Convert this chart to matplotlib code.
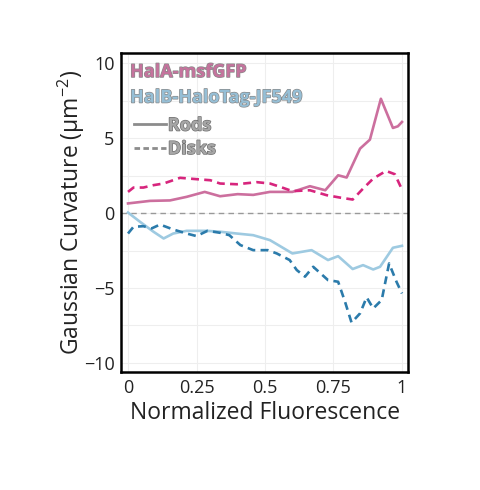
import numpy as np
import matplotlib
matplotlib.use("Agg")
import matplotlib.pyplot as plt
import matplotlib.patheffects as pe
from matplotlib.lines import Line2D

plt.rcParams['font.family'] = ['Open Sans', 'DejaVu Sans']
plt.rcParams['mathtext.fontset'] = 'custom'
plt.rcParams['mathtext.rm'] = 'Open Sans'
plt.rcParams['mathtext.it'] = 'Open Sans:italic'

# HalA-msfGFP, rods (solid)
halA_rods_x = [0.0, 0.08, 0.153, 0.214, 0.28, 0.336, 0.40, 0.457, 0.518, 0.555, 0.60, 0.664,
               0.72, 0.767, 0.798, 0.847, 0.883, 0.923, 0.967, 0.985, 1.0]
halA_rods_y = [0.65, 0.82, 0.85, 1.09, 1.42, 1.13, 1.27, 1.22, 1.42, 1.42, 1.42, 1.8,
               1.53, 2.53, 2.38, 4.31, 4.91, 7.64, 5.69, 5.8, 6.09]

# HalA-msfGFP, disks (dashed)
halA_disks_x = [0.0, 0.02, 0.056, 0.093, 0.13, 0.19, 0.25, 0.30, 0.336, 0.397, 0.47, 0.518,
                0.555, 0.60, 0.664, 0.725, 0.774, 0.82, 0.858, 0.895, 0.942, 0.974, 1.0]
halA_disks_y = [1.42, 1.71, 1.71, 1.87, 1.98, 2.36, 2.27, 2.2, 1.98, 1.93, 2.07, 1.98,
                1.76, 1.47, 1.53, 1.2, 1.04, 0.91, 1.64, 2.31, 2.82, 2.6, 1.58]

# HalB-HaloTag-JF549, rods (solid)
halB_rods_x = [0.0, 0.044, 0.093, 0.13, 0.165, 0.214, 0.287, 0.336, 0.397, 0.457, 0.518, 0.543,
               0.60, 0.67, 0.73, 0.767, 0.82, 0.858, 0.895, 0.92, 0.967, 1.0]
halB_rods_y = [0.04, -0.58, -1.24, -1.69, -1.36, -1.18, -1.18, -1.24, -1.36, -1.47, -1.8, -2.07,
               -2.69, -2.47, -3.13, -2.87, -3.73, -3.47, -3.76, -3.58, -2.31, -2.18]

# HalB-HaloTag-JF549, disks (dashed)
halB_disks_x = [0.0, 0.02, 0.056, 0.086, 0.117, 0.165, 0.214, 0.25, 0.29, 0.336, 0.37, 0.41,
                0.457, 0.51, 0.543, 0.59, 0.616, 0.646, 0.676, 0.73, 0.767, 0.792, 0.816,
                0.847, 0.871, 0.895, 0.926, 0.953, 0.98, 1.0]
halB_disks_y = [-1.36, -0.91, -0.87, -1.02, -0.76, -1.09, -1.36, -1.53, -1.18, -1.31, -1.47, -2.13,
                -2.47, -2.47, -2.69, -3.13, -3.8, -4.24, -3.58, -4.47, -4.58, -5.91, -7.31,
                -6.69, -5.62, -6.36, -5.8, -3.36, -4.58, -5.36]

xticks = [0, 0.25, 0.5, 0.75, 1]
xticklabels = ['0', '0.25', '0.5', '0.75', '1']
yticks = [-10, -5, 0, 5, 10]

c_a_rods = '#cc6f9e'
c_a_disks = '#d7257d'
c_b_rods = '#9ecae1'
c_b_disks = '#2b7bab'

fig = plt.figure(figsize=(4.8, 4.9), dpi=100)
ax = fig.add_axes([0.253, 0.241, 0.597, 0.651])

ax.axhline(0, color='#999999', lw=1.0, ls=(0, (4, 3)), zorder=1)
ax.plot(halA_rods_x, halA_rods_y, color=c_a_rods, lw=1.9, zorder=3)
ax.plot(halA_disks_x, halA_disks_y, color=c_a_disks, lw=1.9, ls=(0, (3, 2)), zorder=3)
ax.plot(halB_rods_x, halB_rods_y, color=c_b_rods, lw=1.9, zorder=3)
ax.plot(halB_disks_x, halB_disks_y, color=c_b_disks, lw=1.9, ls=(0, (3, 2)), zorder=3)

ax.set_xlim(-0.024, 1.022)
ax.set_ylim(-10.6, 10.7)
ax.set_xticks(xticks)
ax.set_xticklabels(xticklabels)
ax.set_yticks(yticks)
ax.set_yticks([-7.5, -2.5, 2.5, 7.5], minor=True)
ax.tick_params(axis='both', which='both', length=0, labelsize=13, pad=5, colors='#222222')
ax.grid(True, which='both', color='#eeeeee', lw=0.8, zorder=0)
ax.set_axisbelow(True)
for s in ax.spines.values():
    s.set_linewidth(1.8)
    s.set_color('black')

ax.set_xlabel('Normalized Fluorescence', fontsize=16.5, color='#222222', labelpad=3)
ax.set_ylabel(r'Gaussian Curvature (μm$^{\mathrm{-2}}$)', fontsize=16.5, color='#222222', labelpad=-2)

ax.text(0.03, 0.94, 'HalA-msfGFP', transform=ax.transAxes, fontsize=13, fontweight='bold',
        color='#c5739d', va='center', ha='left',
        path_effects=[pe.withStroke(linewidth=1.0, foreground='#8a8a8a')])
ax.text(0.03, 0.86, 'HalB-HaloTag-JF549', transform=ax.transAxes, fontsize=13, fontweight='bold',
        color='#96bfd6', va='center', ha='left',
        path_effects=[pe.withStroke(linewidth=1.0, foreground='#8a8a8a')])

handles = [Line2D([], [], color='#8c8c8c', lw=2.0),
           Line2D([], [], color='#8c8c8c', lw=2.0, ls=(0, (2, 1.2)))]
leg = ax.legend(handles, ['Rods', 'Disks'], loc='upper left', bbox_to_anchor=(0.0, 0.84),
                frameon=False, handlelength=1.75, handletextpad=0.12, labelspacing=0.3,
                borderaxespad=0.3, prop={'size': 13, 'weight': 'bold'})
for t in leg.get_texts():
    t.set_color('#a6a6a6')
    t.set_path_effects([pe.withStroke(linewidth=1.0, foreground='#707070')])

fig.savefig('out.png', dpi=100)
